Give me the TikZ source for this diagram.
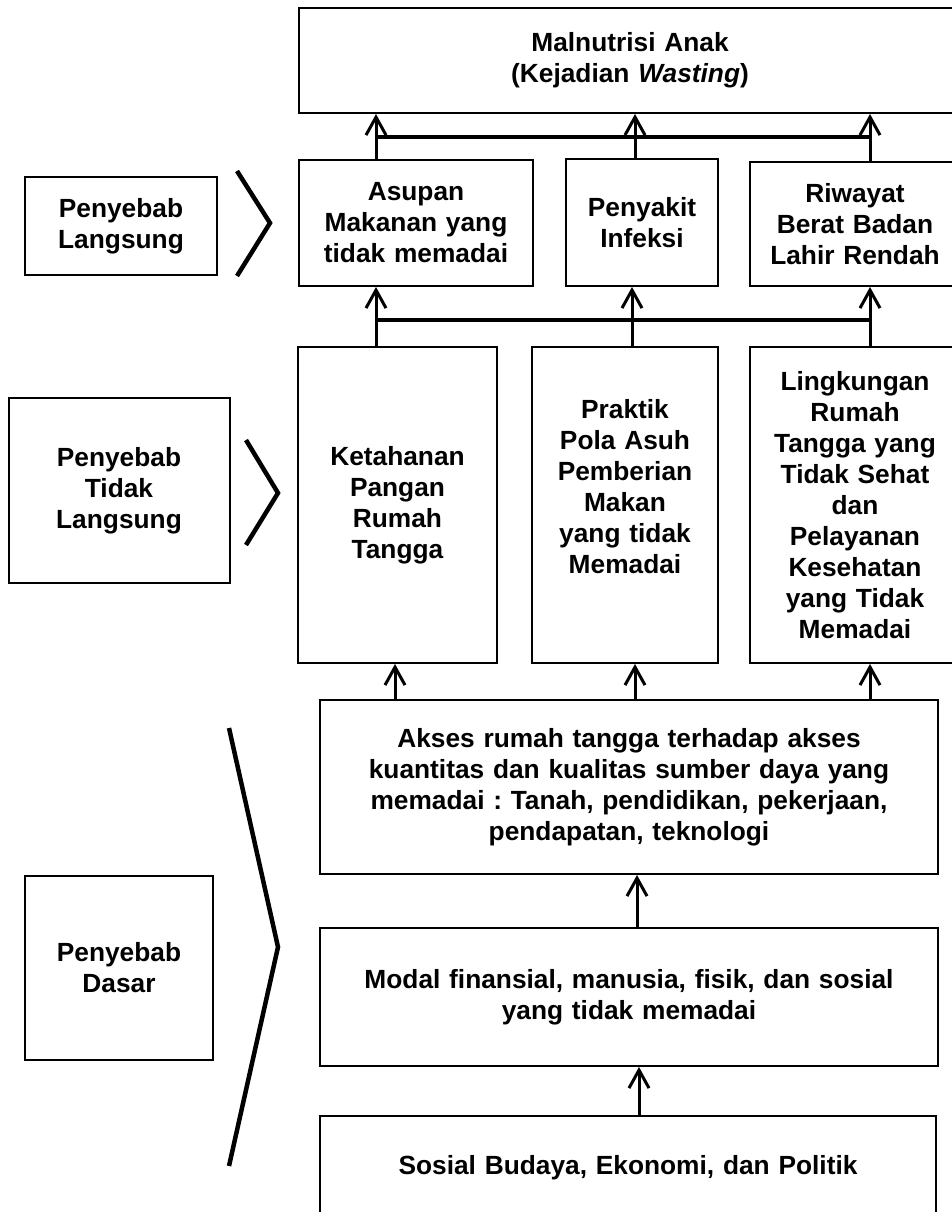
\documentclass[tikz,border=0pt]{standalone}
\usepackage{fontspec}
\setmainfont{Liberation Sans}
\usetikzlibrary{arrows.meta}
\frenchspacing
\tikzset{
  box/.style={draw, line width=2pt, inner sep=0pt, align=center,
    font=\fontsize{26.3}{31}\selectfont\bfseries\frenchspacing},
  arr/.style={line width=3pt, -{Straight Barb[length=18pt,width=20pt]}},
  bar/.style={line width=3.5pt},
  chev/.style={line width=4.5pt, line join=miter},
}
\begin{document}
\begin{tikzpicture}[x=1pt,y=-1pt]
\clip (0,0) rectangle (952,1212);
\fill[white] (0,0) rectangle (952,1212);
% main column boxes
\node[box, minimum width=662, minimum height=105, text width=640] (top) at (630,60.5)
  {Malnutrisi Anak\\(Kejadian \textit{Wasting})};
\node[box, minimum width=234, minimum height=126, text width=224] (asupan) at (416,223)
  {Asupan\\Makanan yang\\tidak memadai};
\node[box, minimum width=152, minimum height=127, text width=146] (penyakit) at (642,222.5)
  {Penyakit\\Infeksi};
\node[box, minimum width=210, minimum height=124, text width=204] (riwayat) at (855,224)
  {Riwayat\\Berat Badan\\Lahir Rendah};
\node[box, minimum width=199, minimum height=316, text width=190] (ketahanan) at (397.5,505)
  {Ketahanan\\Pangan\\Rumah\\Tangga};
\node[box, minimum width=186, minimum height=316, text width=180] (praktik) at (625,505)
  {Praktik\\Pola Asuh\\Pemberian\\Makan\\yang tidak\\Memadai\\[6pt]\mbox{}};
\node[box, minimum width=210, minimum height=316, text width=204] (lingkungan) at (855,505)
  {Lingkungan\\Rumah\\Tangga yang\\Tidak Sehat\\dan\\Pelayanan\\Kesehatan\\yang Tidak\\Memadai};
\node[box, minimum width=618, minimum height=174, text width=600] (akses) at (629,787)
  {Akses rumah tangga terhadap akses\\kuantitas dan kualitas sumber daya yang\\memadai : Tanah, pendidikan, pekerjaan,\\pendapatan, teknologi};
\node[box, minimum width=618, minimum height=138, text width=600] (modal) at (629,997)
  {Modal finansial, manusia, fisik, dan sosial\\yang tidak memadai};
\node[box, minimum width=616, minimum height=104, text width=600] (sosial) at (628,1168)
  {Sosial Budaya, Ekonomi, dan Politik};
% left labels
\node[box, minimum width=192, minimum height=98, text width=186] (pl) at (121,226)
  {Penyebab\\Langsung};
\node[box, minimum width=221, minimum height=185, text width=210] (ptl) at (119,490.5)
  {Penyebab\\Tidak\\Langsung};
\node[box, minimum width=188, minimum height=184, text width=180] (pd) at (119,968)
  {Penyebab\\Dasar};
% chevrons
\draw[chev] (237,171) -- (270,223) -- (237,276);
\draw[chev] (246,440) -- (278,493) -- (246,545);
\draw[chev] (229,728) -- (278,947) -- (229,1166);
% column x positions
\coordinate (xa) at (376,0);
\coordinate (xb) at (635,0);
\coordinate (xc) at (870,0);
\coordinate (xb2) at (632,0);
\coordinate (xd) at (395,0);
\coordinate (xm) at (637,0);
\coordinate (xs) at (639,0);
\coordinate (ya) at (0,137);
\coordinate (yb) at (0,320);
% top level arrows
\draw[arr] (xa |- asupan.north) -- (xa |- top.south);
\draw[arr] (xb |- penyakit.north) -- (xb |- top.south);
\draw[arr] (xc |- riwayat.north) -- (xc |- top.south);
\draw[bar] (xa |- ya) -- (xc |- ya);
% second level arrows
\draw[arr] (xa |- ketahanan.north) -- (xa |- asupan.south);
\draw[arr] (xb2 |- praktik.north) -- (xb2 |- penyakit.south);
\draw[arr] (xc |- lingkungan.north) -- (xc |- riwayat.south);
\draw[bar] (xa |- yb) -- (xc |- yb);
% third level arrows
\draw[arr] (xd |- akses.north) -- (xd |- ketahanan.south);
\draw[arr] (xb |- akses.north) -- (xb |- praktik.south);
\draw[arr] (xc |- akses.north) -- (xc |- lingkungan.south);
% bottom arrows
\draw[arr] (xm |- modal.north) -- (xm |- akses.south);
\draw[arr] (xs |- sosial.north) -- (xs |- modal.south);
\end{tikzpicture}
\end{document}
